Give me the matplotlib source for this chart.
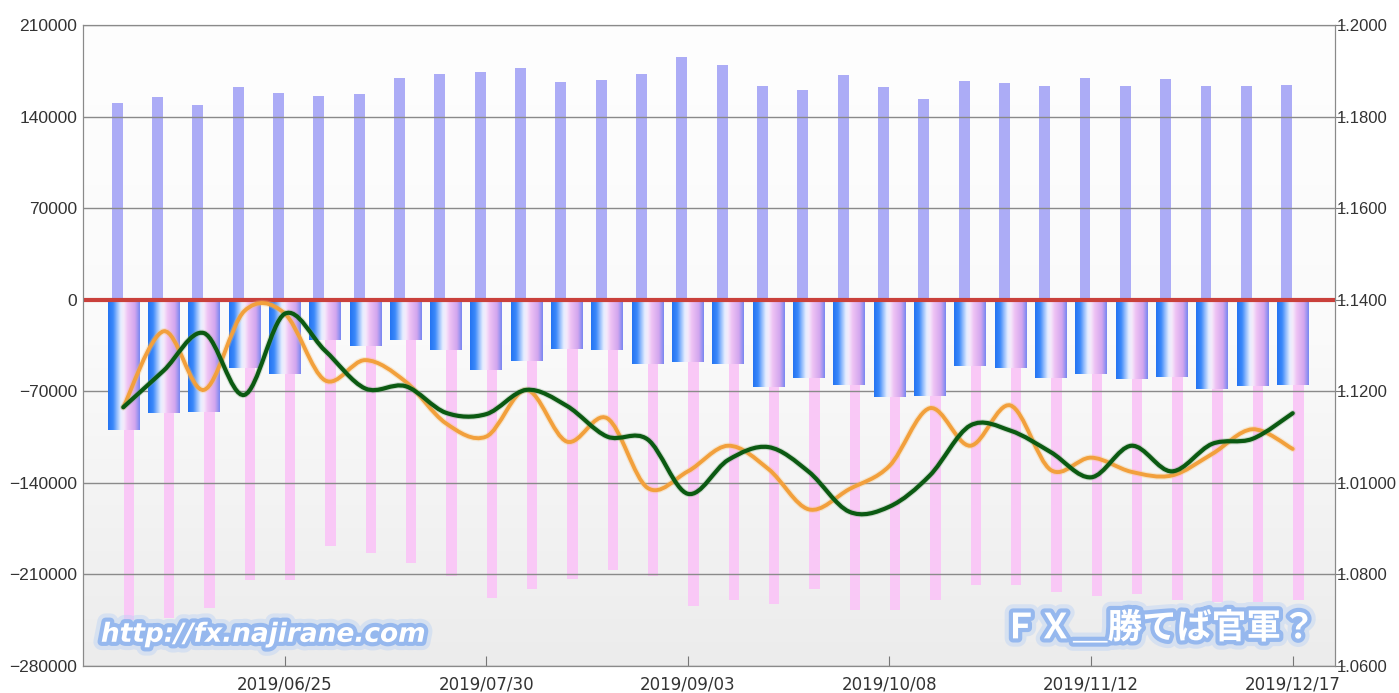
import numpy as np
import pandas as pd
import matplotlib
matplotlib.use("Agg")
import matplotlib.pyplot as plt
import matplotlib.patheffects as pe
from matplotlib.path import Path
from matplotlib.patches import PathPatch
from matplotlib.colors import LinearSegmentedColormap

# weekly positions (Tuesdays)
weeks = pd.date_range("2019-05-28", "2019-12-17", freq="7D")

long_pos = [150600, 154900, 148500, 162300, 158000, 155900, 156900, 169700,
            172800, 173800, 177100, 166400, 167600, 172800, 185500, 179100,
            163300, 160000, 171800, 162300, 153600, 167400, 165300, 163300,
            169700, 163300, 168700, 163300, 163300, 164300]
short_pos = [-244600, -243300, -235600, -214400, -214400, -188200, -193300, -201300,
             -211200, -227700, -221200, -213200, -206300, -211200, -234200, -229200,
             -232400, -221200, -237400, -237400, -229200, -218000, -218000, -223200,
             -226200, -224900, -229400, -231200, -231200, -229400]
net_pos = [-99500, -86800, -85800, -51900, -56500, -31100, -35700, -31100,
           -38200, -53400, -46800, -37500, -38700, -48900, -47800, -49100,
           -67000, -59900, -65000, -74300, -73500, -50400, -52400, -59900,
           -56700, -60400, -59400, -68000, -66000, -65000]
green_rate = [1.1165, 1.1245, 1.1327, 1.1192, 1.1369, 1.1289, 1.1206, 1.1211,
              1.1153, 1.1150, 1.1203, 1.1168, 1.1101, 1.1095, 1.0976, 1.1050,
              1.1078, 1.1024, 1.0937, 1.0948, 1.1016, 1.1125, 1.1114, 1.1067,
              1.1012, 1.1081, 1.1025, 1.1085, 1.1096, 1.1152]
orange_rate = [1.1165, 1.1331, 1.1203, 1.1375, 1.1370, 1.1224, 1.1268, 1.1221,
               1.1130, 1.1101, 1.1203, 1.1090, 1.1141, 1.0989, 1.1025, 1.1081,
               1.1030, 1.0942, 1.0986, 1.1037, 1.1163, 1.1081, 1.1169, 1.1028,
               1.1055, 1.1024, 1.1016, 1.1063, 1.1117, 1.1074]

xtick_idx = [4, 9, 14, 19, 24, 29]
xtick_labels = [weeks[i].strftime("%Y/%m/%d") for i in xtick_idx]
left_ticks = [210000, 140000, 70000, 0, -70000, -140000, -210000, -280000]
left_labels = ["210000", "140000", "70000", "0", "\u221270000", "\u2212140000",
               "\u2212210000", "\u2212280000"]
right_ticks = [1.20, 1.18, 1.16, 1.14, 1.12, 1.10, 1.08, 1.06]
right_labels = ["1.2000", "1.1800", "1.1600", "1.1400", "1.1200", "1.01000",
                "1.0800", "1.0600"]


def smooth_path(xs, ys):
    """Catmull-Rom curve through the points as cubic Bezier segments."""
    p = np.column_stack([xs, ys]).astype(float)
    pp = np.vstack([p[0], p, p[-1]])
    verts, codes = [p[0]], [Path.MOVETO]
    for i in range(len(p) - 1):
        p0, p1, p2, p3 = pp[i], pp[i + 1], pp[i + 2], pp[i + 3]
        verts += [p1 + (p2 - p0) / 6, p2 - (p3 - p1) / 6, p2]
        codes += [Path.CURVE4] * 3
    return Path(verts, codes)


plt.rcParams["font.family"] = ["DejaVu Sans"]
fig = plt.figure(figsize=(13.99, 6.93), dpi=100, facecolor="white")
ax = fig.add_axes([0.0593, 0.039, 0.895, 0.925])
x = np.arange(len(weeks))

# plot-area background: white at top fading to light grey
bg = LinearSegmentedColormap.from_list("bg", ["#fefefe", "#fafafa", "#ececec"])
ax.imshow(np.linspace(0, 1, 256).reshape(-1, 1), cmap=bg, extent=[0, 1, 0, 1],
          transform=ax.transAxes, aspect="auto", zorder=0)

ax.bar(x - 0.15, long_pos, width=0.27, color="#acacf6", zorder=2)
ax.bar(x + 0.14, short_pos, width=0.26, color="#f9c8f6", zorder=2)

grad = LinearSegmentedColormap.from_list(
    "net", [(0.0, "#2574f2"), (0.15, "#3a88fa"), (0.4, "#e6eeff"),
            (0.5, "#f6eafb"), (0.62, "#eec2f4"), (0.85, "#d2a6ee"),
            (1.0, "#7a88f2")])
net_bars = ax.bar(x, net_pos, width=0.78, color="none", zorder=3)
for b in net_bars:
    im = ax.imshow(np.linspace(0, 1, 64).reshape(1, -1), cmap=grad,
                   extent=[b.get_x(), b.get_x() + b.get_width(),
                           b.get_y() + b.get_height(), b.get_y()],
                   aspect="auto", interpolation="bilinear", zorder=3)
    im.set_clip_path(b)

ax.axhline(0, color="#c9403b", lw=3, zorder=4)

ax.set_axisbelow(False)
ax.yaxis.grid(True, color="#8a8a8a", lw=1)
ax.set_xlim(-1.0, 30.05)
ax.set_ylim(-280000, 210000)
ax.set_yticks(left_ticks)
ax.set_yticklabels(left_labels, family="Liberation Sans")
ax.set_xticks(xtick_idx)
ax.set_xticklabels(xtick_labels)
ax.tick_params(axis="x", direction="in", length=7, color="#777777",
               labelsize=12, labelcolor="#333333", pad=7)
ax.tick_params(axis="y", length=0, labelsize=12.5, labelcolor="#333333", pad=4)
for s in ax.spines.values():
    s.set_color("#8a8a8a")

ax2 = ax.twinx()
glow = lambda c: [pe.Stroke(linewidth=4.5, foreground=c, alpha=0.3), pe.Normal()]
ax2.add_patch(PathPatch(smooth_path(x, orange_rate), fill=False, edgecolor="#f2a03c",
                        lw=2.8, capstyle="round", path_effects=glow("#f7c070")))
ax2.add_patch(PathPatch(smooth_path(x, green_rate), fill=False, edgecolor="#0b5a12",
                        lw=3.0, capstyle="round", path_effects=glow("#7aa07a")))
ax2.set_ylim(1.06, 1.20)
ax2.set_xlim(-1.0, 30.05)
ax2.set_yticks(right_ticks)
ax2.set_yticklabels(right_labels, family="Liberation Sans")
ax2.tick_params(axis="y", direction="out", length=7, color="#777777",
                labelsize=12, labelcolor="#333333", pad=-5.5)
for s in ax2.spines.values():
    s.set_color("#8a8a8a")

# watermarks
halo = [pe.withStroke(linewidth=12, foreground="#bcd3f5", alpha=0.45),
        pe.withStroke(linewidth=6, foreground="#8fb4ee", alpha=0.9)]
fig.text(0.188, 0.084, "http://fx.najirane.com", color="white", fontsize=19,
         fontweight="bold", style="italic", ha="center", va="center",
         path_effects=halo, zorder=10)
fig.text(0.829, 0.094, "ＦＸ＿勝てば官軍？", color="white", fontsize=25,
         fontweight="bold", family=["Noto Sans CJK JP", "DejaVu Sans"],
         ha="center", va="center", path_effects=halo, zorder=10)

fig.savefig("out.png", dpi=100, facecolor="white")
